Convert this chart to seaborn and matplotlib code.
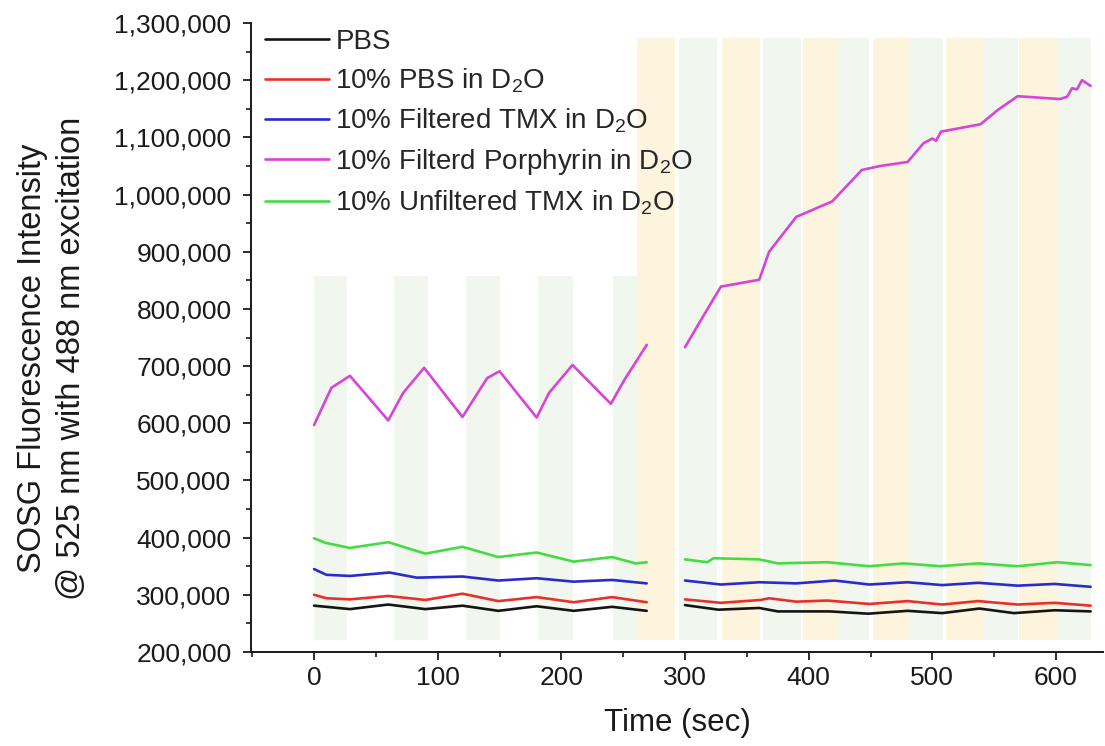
import matplotlib
matplotlib.use("Agg")
import matplotlib.pyplot as plt
import numpy as np
import pandas as pd
import seaborn as sns
from matplotlib.ticker import MultipleLocator, FuncFormatter

# ---- series (time in s, SOSG intensity in counts) ----
series_names = [
    "PBS",
    "10% PBS in D$_2$O",
    "10% Filtered TMX in D$_2$O",
    "10% Filterd Porphyrin in D$_2$O",
    "10% Unfiltered TMX in D$_2$O",
]
series_colors = ["#151515", "#e8302a", "#2b2bcc", "#d844d8", "#44dc44"]

# first run (0-270 s)
pbs_t1 = [0, 10, 29, 60, 90, 120, 149, 180, 210, 241, 269]
pbs_v1 = [281000, 279000, 275000, 283000, 275000, 281000, 272000, 280000, 272000, 279000, 272000]
pbsd_t1 = [0, 10, 29, 60, 90, 120, 149, 180, 210, 241, 269]
pbsd_v1 = [300000, 294000, 292000, 298000, 291000, 302000, 289000, 296000, 287000, 296000, 287000]
ftmx_t1 = [0, 10, 29, 61, 83, 120, 149, 180, 210, 241, 269]
ftmx_v1 = [345000, 335000, 333000, 339000, 330000, 332000, 325000, 329000, 323000, 326000, 320000]
porph_t1 = [0, 14, 29, 60, 72, 89, 120, 140, 150, 180, 190, 209, 240, 251, 269]
porph_v1 = [597000, 662000, 683000, 605000, 653000, 697000, 611000, 679000, 691000, 610000,
            653000, 702000, 634000, 676000, 737000]
utmx_t1 = [0, 9, 29, 60, 90, 120, 149, 180, 210, 241, 260, 269]
utmx_v1 = [399000, 391000, 382000, 392000, 372000, 384000, 366000, 374000, 358000, 366000, 355000, 357000]

# second run (300-630 s)
pbs_t2 = [300, 327, 360, 375, 417, 448, 480, 508, 538, 566, 599, 628]
pbs_v2 = [282000, 274000, 277000, 271000, 271000, 267000, 272000, 268000, 276000, 268000, 273000, 271000]
pbsd_t2 = [300, 329, 361, 368, 390, 415, 449, 480, 508, 537, 569, 599, 628]
pbsd_v2 = [292000, 286000, 291000, 294000, 288000, 290000, 284000, 289000, 283000, 289000, 283000, 286000, 281000]
ftmx_t2 = [300, 329, 360, 390, 421, 449, 480, 508, 537, 569, 599, 628]
ftmx_v2 = [325000, 318000, 322000, 320000, 325000, 318000, 322000, 317000, 321000, 316000, 319000, 314000]
porph_t2 = [300, 313, 329, 360, 368, 390, 419, 443, 458, 480, 493, 500, 503, 507, 539, 553,
            569, 603, 609, 613, 617, 621, 628]
porph_v2 = [733000, 781000, 839000, 851000, 900000, 961000, 988000, 1043000, 1050000, 1057000,
            1090000, 1098000, 1094000, 1110000, 1123000, 1148000, 1172000, 1167000, 1171000,
            1186000, 1184000, 1200000, 1190000]
utmx_t2 = [300, 318, 323, 360, 375, 415, 449, 477, 506, 537, 569, 601, 628]
utmx_v2 = [362000, 357000, 364000, 362000, 355000, 357000, 350000, 355000, 350000, 355000, 350000, 357000, 352000]

# illumination windows (start, end) in s
green_first = [(0, 27), (65, 92), (123, 150), (181, 209), (242, 261)]
green_second = [(295, 326), (363, 394), (424, 449), (481, 509), (541, 569), (602, 628)]
yellow_second = [(261, 292), (330, 361), (395, 424), (452, 481), (511, 541), (570, 602)]
band_low = 221000
band_top_first = 857000
band_top_second = 1273000

# ---- long-form table ----
runs = [
    (pbs_t1, pbs_v1, pbs_t2, pbs_v2),
    (pbsd_t1, pbsd_v1, pbsd_t2, pbsd_v2),
    (ftmx_t1, ftmx_v1, ftmx_t2, ftmx_v2),
    (porph_t1, porph_v1, porph_t2, porph_v2),
    (utmx_t1, utmx_v1, utmx_t2, utmx_v2),
]
frames = []
for name, (t1, v1, t2, v2) in zip(series_names, runs):
    frames.append(pd.DataFrame({"time": t1, "intensity": v1, "series": name, "run": 1}))
    frames.append(pd.DataFrame({"time": t2, "intensity": v2, "series": name, "run": 2}))
df = pd.concat(frames, ignore_index=True)

# ---- style ----
sns.set_style("ticks")
plt.rcParams["font.family"] = ["Liberation Sans", "DejaVu Sans"]
plt.rcParams["mathtext.fontset"] = "custom"
plt.rcParams["mathtext.rm"] = "Liberation Sans"
plt.rcParams["mathtext.it"] = "Liberation Sans:italic"
plt.rcParams["mathtext.bf"] = "Liberation Sans:bold"
plt.rcParams["mathtext.default"] = "regular"

fig = plt.figure(figsize=(11.05, 7.46), dpi=100)
ax = fig.add_axes([251 / 1105, 94 / 746, 852 / 1105, 629 / 746])

yellow = "#fdf4de"
green = "#f1f7ee"
for a, b in green_first:
    ax.fill_between([a, b], band_low, band_top_first, color=green, lw=0, zorder=0)
for a, b in green_second:
    ax.fill_between([a, b], band_low, band_top_second, color=green, lw=0, zorder=0)
for a, b in yellow_second:
    ax.fill_between([a, b], band_low, band_top_second, color=yellow, lw=0, zorder=0)

sns.lineplot(
    data=df, x="time", y="intensity", hue="series", hue_order=series_names,
    palette=dict(zip(series_names, series_colors)), units="run", estimator=None,
    sort=False, linewidth=1.9, ax=ax, legend=True,
)

handles, labels = ax.get_legend_handles_labels()
ax.legend(
    handles, labels, loc="upper left", bbox_to_anchor=(0.016, 0.991), frameon=False,
    fontsize=20, handlelength=2.3, handletextpad=0.25, labelspacing=0.42,
    borderpad=0, borderaxespad=0,
)

ax.set_xlim(-51, 638)
ax.set_ylim(200000, 1300000)
ax.xaxis.set_major_locator(MultipleLocator(100))
ax.xaxis.set_minor_locator(MultipleLocator(50))
ax.yaxis.set_major_locator(MultipleLocator(100000))
ax.yaxis.set_minor_locator(MultipleLocator(50000))
ax.yaxis.set_major_formatter(FuncFormatter(lambda v, p: f"{v:,.0f}"))

for side in ("top", "right"):
    ax.spines[side].set_visible(False)
for side in ("left", "bottom"):
    ax.spines[side].set_linewidth(1.4)
    ax.spines[side].set_color("#1a1a1a")

ax.tick_params(axis="both", which="major", direction="out", length=6, width=1.3,
               color="#1a1a1a", labelsize=19, labelcolor="#1a1a1a")
ax.tick_params(axis="both", which="minor", direction="out", length=3.5, width=1.2,
               color="#1a1a1a")
ax.tick_params(axis="y", which="major", pad=8)
ax.tick_params(axis="x", which="major", pad=4)

ax.set_xlabel("Time (sec)", fontsize=22.5, color="#1a1a1a", labelpad=13)
ax.set_ylabel("SOSG Fluorescence Intensity\n@ 525 nm with 488 nm excitation",
              fontsize=23.5, color="#1a1a1a", linespacing=1.3)
ax.yaxis.set_label_coords(-0.193, 0.467)

fig.savefig("out.png", dpi=100)
